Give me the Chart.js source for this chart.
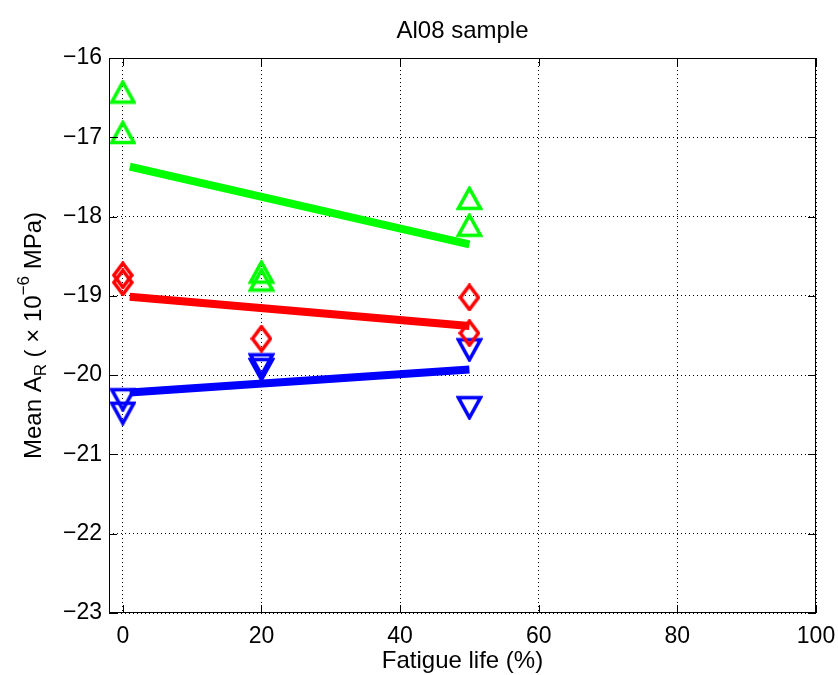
<!DOCTYPE html>
<html>
<head>
<meta charset="utf-8">
<script src="https://cdn.jsdelivr.net/npm/chart.js@4/dist/chart.umd.min.js"></script>
<style>
html,body{margin:0;padding:0;background:#fff;}
#wrap{width:838px;height:675px;position:relative;}
</style>
</head>
<body>
<div id="wrap"><canvas id="c" width="838" height="675"></canvas></div>
<script>
// ---- data ----
const chartTitle = 'Al08 sample';
const xTitle = 'Fatigue life (%)';
const xTicks = [0, 20, 40, 60, 80, 100];
const yTicks = [-23, -22, -21, -20, -19, -18, -17, -16];

const greenX = [0, 0, 20, 20, 50, 50];
const greenY = [-16.43, -16.94, -18.70, -18.80, -17.77, -18.11];
const redX = [0, 0, 20, 50, 50];
const redY = [-18.74, -18.83, -19.54, -19.02, -19.47];
const blueX = [0, 0, 20, 20, 50, 50];
const blueY = [-20.31, -20.48, -19.87, -19.93, -19.68, -20.41];

const fitX = [1, 50];
const greenFit = [-17.37, -18.35];
const redFit = [-19.01, -19.38];
const blueFit = [-20.22, -19.93];

// ---- marker images ----
function markerCanvas(kind, color) {
  const c = document.createElement('canvas');
  const w = kind === 'diamond' ? 22 : 27;
  const h = kind === 'diamond' ? 28 : 25;
  c.width = w; c.height = h;
  const g = c.getContext('2d');
  g.strokeStyle = color; g.lineWidth = 3.6; g.lineJoin = 'miter';
  g.beginPath();
  if (kind === 'up') {
    g.moveTo(w/2, 2.5); g.lineTo(w-2.5, h-2.5); g.lineTo(2.5, h-2.5);
  } else if (kind === 'down') {
    g.moveTo(2.5, 2.5); g.lineTo(w-2.5, 2.5); g.lineTo(w/2, h-2.5);
  } else {
    g.moveTo(w/2, 2); g.lineTo(w-2, h/2); g.lineTo(w/2, h-2); g.lineTo(2, h/2);
  }
  g.closePath(); g.stroke();
  return c;
}

const pts = (xs, ys) => xs.map((x, i) => ({x: x, y: ys[i]}));
const minus = v => (v < 0 ? '\u2212' + Math.abs(v) : String(v));

const FONT = '"Liberation Sans", Arial, Helvetica, sans-serif';

const boxPlugin = {
  id: 'box',
  afterDraw(chart) {
    const {ctx, chartArea: a, scales} = chart;
    ctx.save();
    ctx.strokeStyle = '#000'; ctx.lineWidth = 1;
    ctx.strokeRect(a.left + 0.5, a.top + 0.5, a.right - a.left - 1, a.bottom - a.top - 1);
    ctx.beginPath();
    const tl = 8;
    xTicks.forEach(v => {
      const px = Math.round(scales.x.getPixelForValue(v)) + 0.5;
      ctx.moveTo(px, a.bottom); ctx.lineTo(px, a.bottom - tl);
      ctx.moveTo(px, a.top); ctx.lineTo(px, a.top + tl);
    });
    yTicks.forEach(v => {
      const py = Math.round(scales.y.getPixelForValue(v)) + 0.5;
      ctx.moveTo(a.left, py); ctx.lineTo(a.left + tl, py);
      ctx.moveTo(a.right, py); ctx.lineTo(a.right - tl, py);
    });
    ctx.stroke();

    // titles
    ctx.fillStyle = '#000';
    ctx.textAlign = 'center'; ctx.textBaseline = 'middle';
    ctx.font = '24px ' + FONT;
    const cx = (a.left + a.right) / 2;
    ctx.fillText(chartTitle, cx, 31);
    ctx.fillText(xTitle, cx, 661);

    // y title with sub/superscript
    const parts = [
      {t: 'Mean A', s: 24, dy: 0},
      {t: 'R', s: 17, dy: 7},
      {t: ' ( \u00d7 10', s: 24, dy: 0},
      {t: '\u22126', s: 17, dy: -10},
      {t: ' MPa)', s: 24, dy: 0}
    ];
    let total = 0;
    parts.forEach(p => { ctx.font = p.s + 'px ' + FONT; p.w = ctx.measureText(p.t).width; total += p.w; });
    ctx.save();
    ctx.translate(34, (a.top + a.bottom) / 2);
    ctx.rotate(-Math.PI / 2);
    ctx.textAlign = 'left'; ctx.textBaseline = 'middle';
    let x = -total / 2;
    parts.forEach(p => {
      ctx.font = p.s + 'px ' + FONT;
      ctx.fillText(p.t, x, p.dy);
      x += p.w;
    });
    ctx.restore();
    ctx.restore();
  }
};

const lineDs = (data, color) => ({
  type: 'line', data: data, borderColor: color, borderWidth: 8,
  pointRadius: 0, fill: false, tension: 0, borderCapStyle: 'butt', order: 2
});
const scatDs = (data, img) => ({
  type: 'scatter', data: data, pointStyle: img, pointRadius: 12,
  pointHoverRadius: 12, showLine: false, order: 1
});

new Chart(document.getElementById('c'), {
  type: 'scatter',
  data: {
    datasets: [
      lineDs(pts(fitX, greenFit), '#00ff00'),
      lineDs(pts(fitX, redFit), '#ff0000'),
      lineDs(pts(fitX, blueFit), '#0000ff'),
      scatDs(pts(greenX, greenY), markerCanvas('up', '#00ff00')),
      scatDs(pts(redX, redY), markerCanvas('diamond', '#ff0000')),
      scatDs(pts(blueX, blueY), markerCanvas('down', '#0000ff'))
    ]
  },
  options: {
    responsive: false,
    animation: false,
    events: [],
    layout: {padding: {left: 0, top: 58, right: 22, bottom: 0}},
    plugins: {legend: {display: false}, tooltip: {enabled: false}, title: {display: false}},
    scales: {
      x: {
        type: 'linear', min: -2, max: 100,
        afterBuildTicks: s => { s.ticks = xTicks.map(v => ({value: v})); },
        afterFit: s => { s.height = 62; s.paddingLeft = 0; s.paddingRight = 0; },
        grid: {color: '#000', lineWidth: 1, drawTicks: false},
        border: {display: false, dash: [1, 3]},
        ticks: {padding: 10, color: '#000', font: {family: FONT, size: 23}, maxRotation: 0}
      },
      y: {
        type: 'linear', min: -23, max: -16,
        afterBuildTicks: s => { s.ticks = yTicks.map(v => ({value: v})); },
        afterFit: s => { s.width = 109; s.paddingTop = 0; s.paddingBottom = 0; },
        grid: {color: '#000', lineWidth: 1, drawTicks: false},
        border: {display: false, dash: [1, 3]},
        ticks: {padding: 7, color: '#000', font: {family: FONT, size: 23}, callback: v => minus(v)}
      }
    }
  },
  plugins: [boxPlugin]
});
</script>
</body>
</html>
